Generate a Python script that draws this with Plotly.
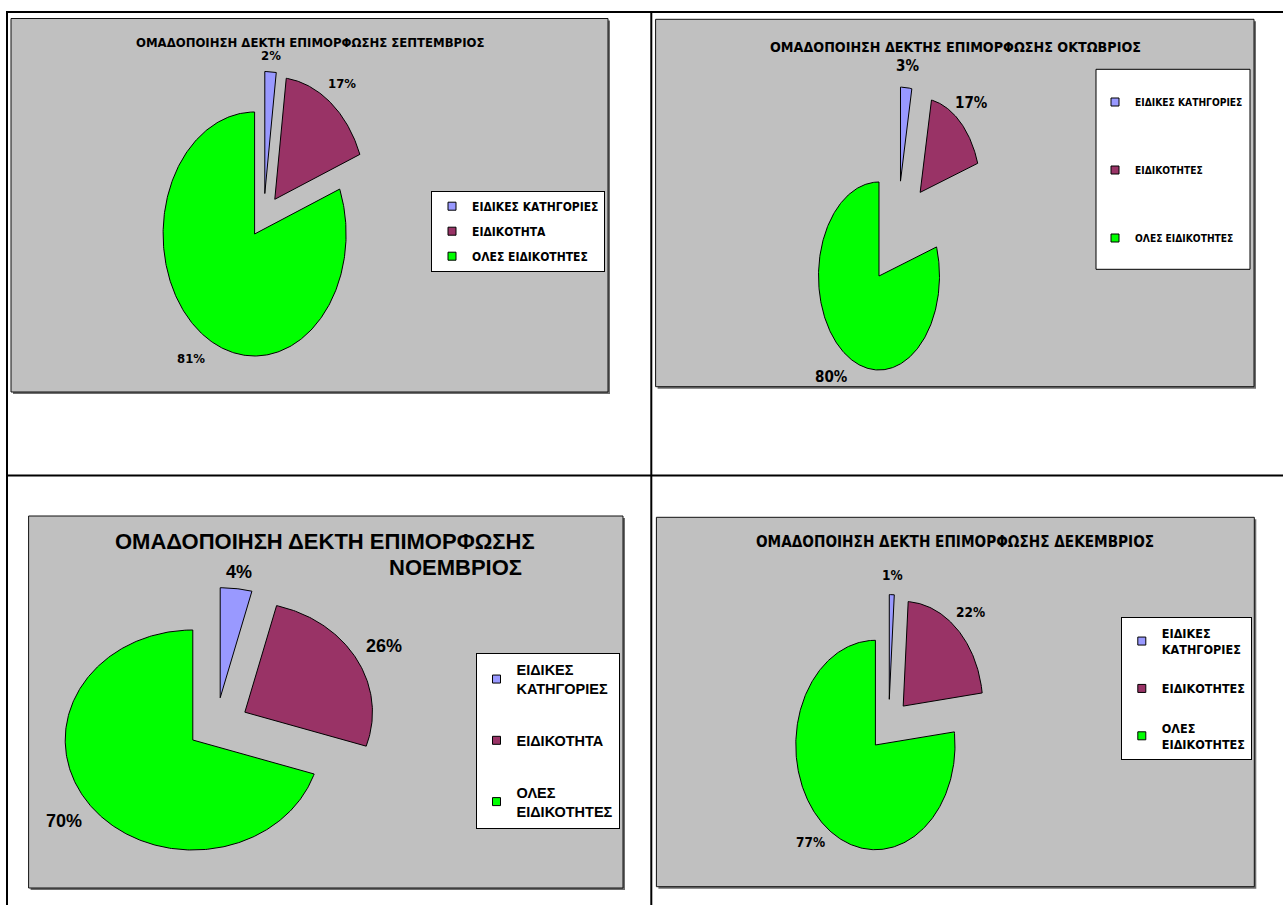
import numpy as np
import plotly.graph_objects as go

W, H = 1283, 905

# ---- data -------------------------------------------------------------
titles = [
    "ΟΜΑΔΟΠΟΙΗΣΗ ΔΕΚΤΗ ΕΠΙΜΟΡΦΩΣΗΣ ΣΕΠΤΕΜΒΡΙΟΣ",
    "ΟΜΑΔΟΠΟΙΗΣΗ ΔΕΚΤΗΣ ΕΠΙΜΟΡΦΩΣΗΣ ΟΚΤΩΒΡΙΟΣ",
    "ΟΜΑΔΟΠΟΙΗΣΗ ΔΕΚΤΗ ΕΠΙΜΟΡΦΩΣΗΣ ΝΟΕΜΒΡΙΟΣ",
    "ΟΜΑΔΟΠΟΙΗΣΗ ΔΕΚΤΗ ΕΠΙΜΟΡΦΩΣΗΣ ΔΕΚΕΜΒΡΙΟΣ",
]
categories_sep = ["ΕΙΔΙΚΕΣ ΚΑΤΗΓΟΡΙΕΣ", "ΕΙΔΙΚΟΤΗΤΑ", "ΟΛΕΣ ΕΙΔΙΚΟΤΗΤΕΣ"]
categories_oct = ["ΕΙΔΙΚΕΣ ΚΑΤΗΓΟΡΙΕΣ", "ΕΙΔΙΚΟΤΗΤΕΣ", "ΟΛΕΣ ΕΙΔΙΚΟΤΗΤΕΣ"]
categories_nov = ["ΕΙΔΙΚΕΣ ΚΑΤΗΓΟΡΙΕΣ", "ΕΙΔΙΚΟΤΗΤΑ", "ΟΛΕΣ ΕΙΔΙΚΟΤΗΤΕΣ"]
categories_dec = ["ΕΙΔΙΚΕΣ ΚΑΤΗΓΟΡΙΕΣ", "ΕΙΔΙΚΟΤΗΤΕΣ", "ΟΛΕΣ ΕΙΔΙΚΟΤΗΤΕΣ"]

values_sep = [2, 17, 81]
values_oct = [3, 17, 80]
values_nov = [4, 26, 70]
values_dec = [1, 22, 77]

slice_colors = ["#9999FF", "#993366", "#00FF00"]

# ---- styling ----------------------------------------------------------
NARROW = "'Liberation Sans Narrow', 'Arial Narrow', 'DejaVu Sans Condensed', sans-serif"
WIDE = "'Liberation Sans', Arial, sans-serif"
GRAY = "#C0C0C0"

# geometry in pixels: chart rectangle, pie centre and radii, explode
panels = [
    dict(title=titles[0], cats=categories_sep, vals=values_sep,
         rect=(11, 18.5, 608, 392), center=(254.6, 234), radii=(91.5, 122),
         pull=[0.35, 0.36, 0.0], bias=[15, 0, 0], pad=[16, 22, 27],
         title_pos=[(309.5, 42)], title_size=13, title_font=NARROW,
         label_size=13, label_font=NARROW,
         legend_anchor=(605, 190.7), legend_size=12, legend_font=NARROW,
         legend_gap=6, legend_frame=None, wrap=False),
    dict(title=titles[1], cats=categories_oct, vals=values_oct,
         rect=(655.6, 19.3, 1254, 386.7), center=(879, 276), radii=(60.5, 94),
         pull=[1.07, 1.12, 0.0], bias=[14, -4, 0], pad=[22, 22, 28],
         title_pos=[(955, 46.7)], title_size=14.2, title_font=NARROW,
         label_size=15, label_font=NARROW,
         legend_anchor=(1248, 87.5), legend_size=10.2, legend_font=NARROW,
         legend_gap=49, legend_frame=(1096, 69.3, 1250, 269.3), wrap=False),
    dict(title=titles[2], cats=categories_nov, vals=values_nov,
         rect=(28.6, 516, 623, 888), center=(192.8, 740), radii=(127.6, 110),
         pull=[0.44, 0.48, 0.0], bias=[22, -3, 0], pad=[17, 30, 30],
         title_pos=[(325, 541.7), (455, 567)], title_size=22, title_font=WIDE,
         label_size=18, label_font=WIDE,
         legend_anchor=(619.5, 652.7), legend_size=14.5, legend_font=WIDE,
         legend_gap=30, legend_frame=None, wrap=True),
    dict(title=titles[3], cats=categories_dec, vals=values_dec,
         rect=(656.4, 517.3, 1254.3, 886.7), center=(875.4, 745), radii=(79.6, 104.7),
         pull=[0.47, 0.51, 0.0], bias=[20, 0, 0], pad=[20, 22, 22],
         title_pos=[(955, 542.3)], title_size=15.2, title_font=NARROW,
         label_size=13.5, label_font=NARROW,
         legend_anchor=(1251.8, 617.3), legend_size=12.5, legend_font=NARROW,
         legend_gap=20, legend_frame=None, wrap=True),
]


def px_x(x):
    return x / W


def px_y(y):
    return 1 - y / H


fig = go.Figure()
shapes = []
annotations = []
layout_extra = {}

for i, p in enumerate(panels, start=1):
    sfx = "" if i == 1 else str(i)
    xa, ya = "x" + sfx, "y" + sfx
    L, T, R, B = p["rect"]
    cx, cy = p["center"]
    rx, ry = p["radii"]

    # axes in pixel units, origin at the pie centre, y pointing up
    layout_extra["xaxis" + sfx] = dict(domain=[px_x(L), px_x(R)], range=[L - cx, R - cx],
                                       visible=False, fixedrange=True, anchor=ya)
    layout_extra["yaxis" + sfx] = dict(domain=[px_y(B), px_y(T)], range=[cy - B, cy - T],
                                       visible=False, fixedrange=True, anchor=xa)

    # chart area: shadow, then grey plate with dark frame
    shapes.append(dict(type="rect", xref="paper", yref="paper", layer="below",
                       x0=px_x(L + 2), x1=px_x(R + 2), y0=px_y(B + 2), y1=px_y(T + 2),
                       fillcolor="#6E6E6E", line=dict(width=0)))
    shapes.append(dict(type="rect", xref="paper", yref="paper", layer="below",
                       x0=px_x(L), x1=px_x(R), y0=px_y(B), y1=px_y(T),
                       fillcolor=GRAY, line=dict(color="#111111", width=1)))

    vals = np.array(p["vals"], dtype=float)
    total = vals.sum()
    bounds = np.concatenate([[0], np.cumsum(vals)]) / total * 2 * np.pi
    legend_key = "legend" + sfx

    for k in range(len(vals)):
        a0, a1 = bounds[k], bounds[k + 1]
        mid = (a0 + a1) / 2
        pdir = mid + np.radians(p["bias"][k])
        ox = p["pull"][k] * rx * np.sin(pdir)
        oy = p["pull"][k] * ry * np.cos(pdir)
        th = np.linspace(a0, a1, max(int((a1 - a0) / (2 * np.pi) * 400) + 2, 4))
        xs = np.concatenate([[ox], ox + rx * np.sin(th), [ox]])
        ys = np.concatenate([[oy], oy + ry * np.cos(th), [oy]])
        fig.add_trace(go.Scatter(
            x=xs, y=ys, mode="lines", fill="toself", fillcolor=slice_colors[k],
            line=dict(color="black", width=1), xaxis=xa, yaxis=ya,
            name=p["cats"][k], showlegend=False, hoverinfo="name",
        ))

        # percentage label just outside the slice edge
        ex, ey = ox + rx * np.sin(mid), oy + ry * np.cos(mid)
        dx, dy = rx * np.sin(mid), ry * np.cos(mid)
        n = np.hypot(dx, dy)
        lx, ly = ex + p["pad"][k] * dx / n, ey + p["pad"][k] * dy / n
        pct = int(round(vals[k] / total * 100))
        annotations.append(dict(
            x=lx, y=ly, xref=xa, yref=ya, text=f"{pct}%", showarrow=False,
            font=dict(family=p["label_font"], size=p["label_size"], color="black",
                      weight="bold"),
        ))

        # legend entry
        name = p["cats"][k]
        if p["wrap"]:
            name = name.replace(" ", "<br>", 1)
        fig.add_trace(go.Scatter(
            x=[None], y=[None], mode="markers", xaxis=xa, yaxis=ya,
            marker=dict(symbol="square", size=8, color=slice_colors[k],
                        line=dict(color="black", width=1)),
            name=name, legend=legend_key, legendgroup=f"g{i}{k}", showlegend=True,
            hoverinfo="skip",
        ))

    lr, lt = p["legend_anchor"]
    framed = p["legend_frame"] is not None
    if framed:
        fl, ft, fr, fb = p["legend_frame"]
        shapes.append(dict(type="rect", xref="paper", yref="paper", layer="below",
                           x0=px_x(fl), x1=px_x(fr), y0=px_y(fb), y1=px_y(ft),
                           fillcolor="white", line=dict(color="black", width=1)))
    layout_extra[legend_key] = dict(
        x=px_x(lr), y=px_y(lt), xanchor="right", yanchor="top",
        bgcolor="rgba(0,0,0,0)" if framed else "white",
        bordercolor="black", borderwidth=0 if framed else 1,
        font=dict(family=p["legend_font"], size=p["legend_size"], color="black",
                  weight="bold"),
        traceorder="grouped", tracegroupgap=p["legend_gap"],
        itemclick=False, itemdoubleclick=False,
    )

    # chart title
    if len(p["title_pos"]) == 1:
        parts = [p["title"]]
    else:
        head, tail = p["title"].rsplit(" ", 1)
        parts = [head, tail]
    for text, (tx, ty) in zip(parts, p["title_pos"]):
        annotations.append(dict(
            x=px_x(tx), y=px_y(ty), xref="paper", yref="paper", text=text,
            showarrow=False, xanchor="center", yanchor="middle",
            font=dict(family=p["title_font"], size=p["title_size"], color="black",
                      weight="bold"),
        ))

# table rules around the four charts
rule = dict(color="black", width=2)
for x0, y0, x1, y1 in [(6, 12, W, 12), (7, 12, 7, H), (651.3, 12, 651.3, H),
                       (6, 475.5, W, 475.5)]:
    shapes.append(dict(type="line", xref="paper", yref="paper",
                       x0=px_x(x0), y0=px_y(y0), x1=px_x(x1), y1=px_y(y1), line=rule))

fig.update_layout(
    width=W, height=H, margin=dict(l=0, r=0, t=0, b=0),
    paper_bgcolor="white", plot_bgcolor="rgba(0,0,0,0)",
    shapes=shapes, annotations=annotations, hovermode="closest",
    **layout_extra,
)

fig.write_html("out.html")
